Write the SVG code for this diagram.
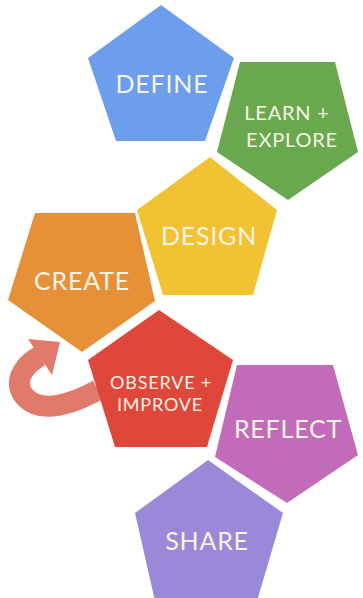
<svg xmlns="http://www.w3.org/2000/svg" width="363" height="598" viewBox="0 0 363 598">
<style>
.lbl{font-family:Lato,"Open Sans","Liberation Sans",sans-serif;fill:#f6f3e4;text-anchor:middle;font-weight:400;letter-spacing:0.8px}
.big{font-size:25px}
.sm{font-size:20px}
.xs{font-size:18px}
</style>
<rect width="363" height="598" fill="#ffffff"/>
<g id="connectors">
  <g id="loop-arrow" fill="#e07a6a">
    <path d="M 98 390 C 72 404, 42 414, 26 398 C 12 384, 22 366, 40 356" fill="none" stroke="#e07a6a" stroke-width="21"/>
    <polygon points="60,342 28,339 52,375"/>
  </g>
</g>
<g id="define"><polygon points="161,5 234,58 205,141 116,141 88,58" fill="#6d9eeb"/><text class="lbl big" x="162" y="93">DEFINE</text></g>
<g id="learn"><polygon points="240,62 335,62 358,152 288,200 217,152" fill="#6aa84f"/><text class="lbl sm" x="287" y="120">LEARN +</text><text class="lbl sm" x="292" y="147">EXPLORE</text></g>
<g id="design"><polygon points="210,157 277,210 253,295 163,295 137,210" fill="#f1c232"/><text class="lbl big" x="209" y="245">DESIGN</text></g>
<g id="create"><polygon points="35,213 135,213 155,301 82,352 8,300" fill="#e69138"/><text class="lbl big" x="82" y="290">CREATE</text></g>
<g id="observe"><polygon points="159,310 233,360 207,447 115,447 88,360" fill="#e0473b"/><text class="lbl xs" x="161" y="389">OBSERVE +</text><text class="lbl xs" x="160" y="411">IMPROVE</text></g>
<g id="reflect"><polygon points="237,365 333,365 358,455 287,503 215,457" fill="#c16bb9"/><text class="lbl big" x="288" y="438">REFLECT</text></g>
<g id="share"><polygon points="208,460 283,513 257,601 155,601 135,513" fill="#9a88d9"/><text class="lbl big" x="207" y="550">SHARE</text></g>
</svg>
